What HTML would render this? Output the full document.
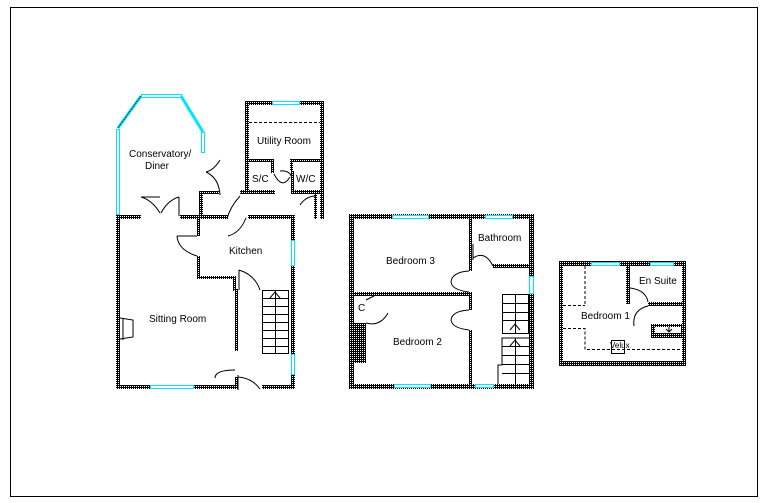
<!DOCTYPE html>
<html><head><style>
html,body{margin:0;padding:0;background:#fff;}
svg{display:block;}
text{font-family:"Liberation Sans",sans-serif;font-size:10px;fill:#000;}
</style></head><body>
<svg width="768" height="503" viewBox="0 0 768 503" xmlns="http://www.w3.org/2000/svg">
<defs>
<pattern id="w" width="2" height="2" patternUnits="userSpaceOnUse">
<rect width="2" height="2" fill="#000"/><rect x="0" y="0" width="1" height="1" fill="#fff"/>
</pattern>
</defs>
<rect x="10.5" y="7.5" width="747" height="489" fill="none" stroke="#000"/>

<g fill="url(#w)">
<!-- ground floor -->
<rect x="116" y="215" width="25" height="4"/>
<rect x="180" y="215" width="48" height="4"/>
<rect x="248" y="215" width="47" height="4"/>
<rect x="116" y="215" width="4" height="174"/>
<rect x="116" y="385" width="119" height="4"/>
<rect x="262" y="385" width="33" height="4"/>
<rect x="291" y="215" width="4" height="174"/>
<rect x="199" y="191" width="4" height="26"/>
<rect x="199" y="191" width="20" height="3"/>
<rect x="197" y="215" width="3" height="21"/>
<rect x="197" y="256" width="3" height="23"/>
<rect x="197" y="276" width="38" height="3"/>
<rect x="233" y="276" width="3" height="15"/>
<rect x="235" y="289" width="3" height="62"/>
<rect x="235" y="377" width="3" height="12"/>
<!-- utility -->
<rect x="245" y="101" width="79" height="4"/>
<rect x="245" y="101" width="4" height="93"/>
<rect x="320" y="101" width="4" height="118"/>
<rect x="240" y="190" width="35" height="4"/>
<rect x="291" y="190" width="33" height="4"/>
<rect x="314" y="194" width="3" height="25"/>
<rect x="249" y="159" width="24" height="3"/>
<rect x="271" y="159" width="3" height="14"/>
<rect x="290" y="159" width="31" height="3"/>
<rect x="290" y="159" width="3" height="12"/>
<rect x="291" y="171" width="3" height="20"/>
<!-- first floor -->
<rect x="349" y="214" width="185" height="5"/>
<rect x="349" y="384" width="185" height="5"/>
<rect x="349" y="214" width="5" height="175"/>
<rect x="529" y="214" width="5" height="175"/>
<rect x="349" y="292" width="120" height="4"/>
<rect x="469" y="214" width="3" height="57"/>
<rect x="469" y="292" width="3" height="18"/>
<rect x="469" y="330" width="3" height="58"/>
<rect x="493" y="264" width="38" height="4"/>
<rect x="354" y="323" width="12" height="40"/>
<!-- attic -->
<rect x="559" y="261" width="127" height="5"/>
<rect x="559" y="361" width="127" height="5"/>
<rect x="559" y="261" width="4" height="105"/>
<rect x="682" y="261" width="4" height="105"/>
<rect x="626" y="263" width="4" height="41"/>
<rect x="648" y="302" width="36" height="4"/>
<rect x="651" y="324" width="33" height="14"/>
</g>
<rect x="655" y="327" width="26" height="6" fill="#fff"/>

<!-- windows -->
<g fill="#fff" stroke="#00e5ff" stroke-width="1">
<rect x="116.5" y="129.5" width="3" height="85"/>
<rect x="141.5" y="94.5" width="40" height="3"/>
<rect x="201.5" y="132.5" width="3" height="20"/>
<rect x="150.5" y="385.5" width="43" height="3"/>
<rect x="291.5" y="240.5" width="3" height="25"/>
<rect x="291.5" y="354.5" width="3" height="20"/>
<rect x="272.5" y="101.5" width="27" height="3"/>
<rect x="392.5" y="215.5" width="36" height="3"/>
<rect x="485.5" y="215.5" width="27" height="3"/>
<rect x="394.5" y="384.5" width="36" height="3"/>
<rect x="475.5" y="384.5" width="18" height="3"/>
<rect x="529.5" y="276.5" width="4" height="17"/>
<rect x="591.5" y="262.5" width="28" height="3"/>
<rect x="650.5" y="262.5" width="23" height="3"/>
</g>
<g stroke="#00e5ff" stroke-width="3" fill="none">
<line x1="118" y1="128" x2="141" y2="96"/>
<line x1="181" y1="96" x2="203" y2="132"/>
</g>
<g stroke="#000" stroke-width="1" fill="none">
<line x1="118" y1="128" x2="141" y2="96" stroke-dasharray="1 1" />
<!-- doors -->
<path d="M141 197 L160 197 M141 197 Q152 200 160 213"/>
<path d="M179 197 L179 216 M179 197 Q168 200 161 213"/>
<path d="M220 195 Q219 178 206 172 M220 160 Q214 170 206 172"/>
<path d="M227 219 Q230 207 240 196"/>
<path d="M228 236 Q240 233 246 218"/>
<path d="M300 205 Q306 196 316 196"/>
<path d="M177 236 L197 236 M177 236 Q178 250 197 256"/>
<path d="M239 290 L239 270 M239 270 Q255 275 260 290"/>
<path d="M235 370 Q215 370 215 378 M238 375 L238 390 M238 377 Q252 378 260 389"/>
<path d="M274 174 Q282 190 290 177"/>
<path d="M280 171 Q290 170 292 178"/>
<!-- stairs ground -->
<rect x="262.5" y="290.5" width="26" height="63"/>
<path d="M275.5 290 V353 M262 298.5 H289 M262 306.5 H289 M262 314.5 H289 M262 322.5 H289 M262 330.5 H289 M262 338.5 H289 M262 346.5 H289 M270 298 L275 292 L280 298"/>
<!-- fireplace -->
<path d="M120 318 L133 320 L133 337 L120 339 M123 318 L123 340"/>
<!-- first floor doors -->
<path d="M473 258 Q485 250 493 266 M473 260 L473 244"/>
<path d="M469 271 Q452 272 451 282 Q452 290 469 292"/>
<path d="M469 310 Q452 311 451 320 Q452 328 469 330"/>
<path d="M366 323 Q380 327 388 313 M366 300 L374 296"/>
<!-- stairs first floor -->
<rect x="502.5" y="294.5" width="26" height="39"/>
<path d="M502 303.5 H529 M502 312.5 H529 M502 320.5 H529 M515.5 294 V333 M510 330 L515 324 L520 330"/>
<path d="M498 384 V365 H502 V338 H529 M502 346.5 H529 M502 355.5 H529 M502 364.5 H529 M502 373.5 H529 M515.5 338 V384 M510 346 L515 340 L520 346"/>
<!-- attic -->
<path d="M630 288 Q646 290 648 302 M648 306 Q632 310 634 326"/>
<path d="M563 305.5 H585 M585 266 V305 M563 328.5 H585 V349.5 H682" stroke-dasharray="3 2"/>
<rect x="611.5" y="340.5" width="13" height="13"/>
<path d="M666 329 L669 332 L672 329 M669 332 V327"/>
<path d="M249 122.5 H320" stroke-dasharray="3 2"/>
</g>

<text x="129" y="157">Conservatory/</text>
<text x="145" y="169">Diner</text>
<text x="257" y="144">Utility Room</text>
<text x="252" y="182">S/C</text>
<text x="296" y="182">W/C</text>
<text x="229" y="254">Kitchen</text>
<text x="149" y="322">Sitting Room</text>
<text x="386" y="264">Bedroom 3</text>
<text x="478" y="241">Bathroom</text>
<text x="393" y="345">Bedroom 2</text>
<text x="358" y="311">C</text>
<text x="639" y="284">En Suite</text>
<text x="581" y="319">Bedroom 1</text>
<text x="610" y="348" style="font-size:8px">Velux</text>
</svg>
</body></html>
